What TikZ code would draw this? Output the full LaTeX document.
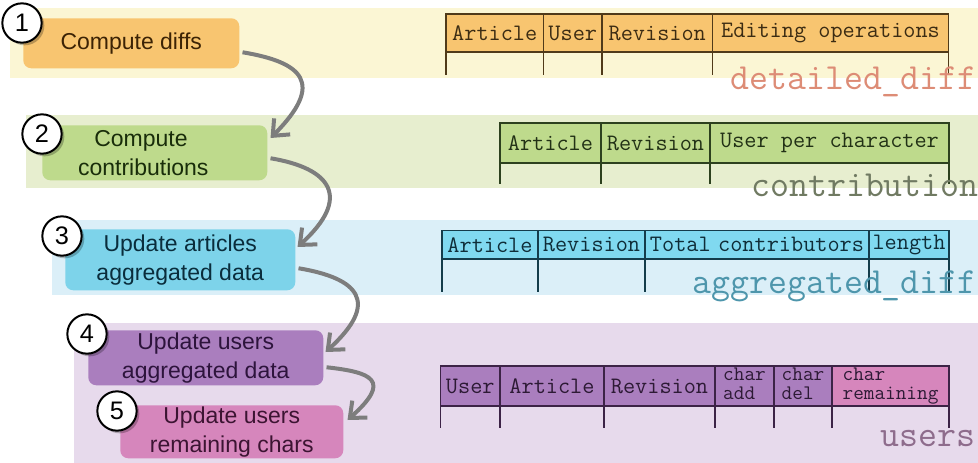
\documentclass[tikz,border=0pt]{standalone}
\usepackage{fontspec}
\setmainfont{Liberation Sans}
\usetikzlibrary{arrows.meta,calc,shadows}
\definecolor{bandA}{RGB}{251,246,212}
\definecolor{bandB}{RGB}{231,238,207}
\definecolor{bandC}{RGB}{219,239,248}
\definecolor{bandD}{RGB}{231,218,236}
\definecolor{boxA}{RGB}{248,197,112}
\definecolor{boxB}{RGB}{190,218,140}
\definecolor{boxC}{RGB}{125,211,234}
\definecolor{boxD}{RGB}{170,126,190}
\definecolor{boxE}{RGB}{214,134,188}
\definecolor{hdrC}{RGB}{128,217,240}
\definecolor{lnA}{RGB}{80,58,25}
\definecolor{lnB}{RGB}{45,65,30}
\definecolor{lnC}{RGB}{20,60,75}
\definecolor{lnD}{RGB}{60,35,70}
\definecolor{txA}{RGB}{60,35,5}
\definecolor{txB}{RGB}{25,45,10}
\definecolor{txC}{RGB}{10,45,60}
\definecolor{txD}{RGB}{45,20,60}
\definecolor{txE}{RGB}{60,20,50}
\definecolor{nameA}{RGB}{221,140,118}
\definecolor{nameB}{RGB}{112,122,98}
\definecolor{nameC}{RGB}{78,150,172}
\definecolor{nameD}{RGB}{142,108,140}
\definecolor{arrowgray}{RGB}{125,125,125}
% name x1 x2 y1 y2 fill line text
\newcommand\mkcell[8]{%
  \filldraw[fill=#6, draw=#7, line width=1.1pt] (#2,#4) rectangle (#3,#5);
  \node[celltext, text=#7!75!black] (#1) at ({(#2+#3)/2},{(#4+#5)/2}) {#8};}
\newcommand\twolinecell[2]{\fontsize{15.5}{14.6}\selectfont\begin{tabular}{@{}l@{}}#1\\#2\end{tabular}}
\begin{document}
\begin{tikzpicture}[x=0.75pt,y=-0.75pt,
  procbox/.style={rectangle, rounded corners=6pt, inner sep=0pt, align=center,
    anchor=north west, font=\fontsize{17.25}{21.75}\selectfont},
  numcirc/.style={circle, draw=black, line width=1.5pt, fill=white,
    minimum size=29.5pt, inner sep=0pt, font=\fontsize{19}{19}\selectfont,
    drop shadow={shadow xshift=2pt, shadow yshift=-2pt, opacity=0.25, fill=black}},
  flow/.style={draw=arrowgray, line width=3pt, -{Straight Barb[length=10pt,width=17pt]}},
  celltext/.style={inner sep=0pt, align=left, font=\ttfamily\fontsize{17.7}{13}\selectfont},
  tline/.style={line width=1.1pt},
  tname/.style={inner sep=0pt, anchor=base east, font=\ttfamily\fontsize{27.6}{27.6}\selectfont}]
\useasboundingbox (0,0) rectangle (978,463);
% bands
\fill[bandA] (10,8) rectangle (978,78);
\fill[bandB] (26,115) rectangle (978,188);
\fill[bandC] (52,220) rectangle (978,295);
\fill[bandD] (74,323) rectangle (978,463);
% process boxes
\node[procbox, fill=boxA, text=txA, minimum width=162pt, minimum height=37.5pt] (p1) at (23,18) {Compute diffs};
\node[procbox, fill=boxB, text=txB, minimum width=168.75pt, minimum height=41.25pt] (p2) at (42,125) {Compute\hspace*{1.2em}\\contributions\hspace*{1em}};
\node[procbox, fill=boxC, text=txC, minimum width=172.5pt, minimum height=45.75pt] (p3) at (65,229) {Update articles\\aggregated data};
\node[procbox, fill=boxD, text=txD, minimum width=176.25pt, minimum height=41.25pt] (p4) at (88,330) {Update users\\aggregated data};
\node[procbox, fill=boxE, text=txE, minimum width=167.25pt, minimum height=39.75pt] (p5) at (120,405) {Update users\\remaining chars};
% number circles
\node[numcirc] (c1) at (22,23) {1};
\node[numcirc] (c2) at (42,134) {2};
\node[numcirc] (c3) at (62,236) {3};
\node[numcirc] (c4) at (87,334) {4};
\node[numcirc] (c5) at (117,411) {5};
% arrows
\draw[flow] ($(p1.east)+(3,9)$) .. controls +(60,10) and +(55,-55) .. ($(p2.north east)+(3,13)$);
\draw[flow] ($(p2.east)+(3,5.5)$) .. controls +(60,10) and +(55,-50) .. ($(p3.north east)+(2,18)$);
\draw[flow] ($(p3.east)+(3,8.5)$) .. controls +(60,10) and +(55,-50) .. ($(p4.north east)+(2,22)$);
\draw[flow] ($(p4.east)+(3,9.5)$) .. controls +(45,5) and +(45,-40) .. ($(p5.north east)+(4,15)$);
% table 1
\mkcell{ta1}{446}{543.5}{14}{52}{boxA}{lnA}{Article}
\mkcell{ta2}{543.5}{602}{14}{52}{boxA}{lnA}{User}
\mkcell{ta3}{602}{712.5}{14}{52}{boxA}{lnA}{Revision}
\mkcell{ta4}{712.5}{948.5}{14}{52}{boxA}{lnA}{Editing operations}
\foreach \xx in {446,543.5,602,712.5,948.5} \draw[tline, lnA] (\xx,52) -- (\xx,75);
\node[tname, text=nameA] (n1) at (977,90) {detailed\_diff};
% table 2
\mkcell{tb1}{500}{601}{123}{163}{boxB}{lnB}{Article}
\mkcell{tb2}{601}{710}{123}{163}{boxB}{lnB}{Revision}
\mkcell{tb3}{710}{949}{123}{163}{boxB}{lnB}{User per character}
\foreach \xx in {500,601,710,949} \draw[tline, lnB] (\xx,163) -- (\xx,184);
\node[tname, text=nameB] (n2) at (979,197) {contribution};
% table 3
\mkcell{tc1}{442}{538}{230.5}{259}{hdrC}{lnC}{Article}
\mkcell{tc2}{538}{645}{230.5}{259}{hdrC}{lnC}{Revision}
\mkcell{tc3}{645}{869}{230.5}{259}{hdrC}{lnC}{Total\hspace{-0.2em} contributors}
\mkcell{tc4}{869}{949}{230.5}{259}{hdrC}{lnC}{length}
\foreach \xx in {442,538,645,869,949} \draw[tline, lnC] (\xx,259) -- (\xx,292);
\node[tname, text=nameC] (n3) at (977,294) {aggregated\_diff};
% table 4
\mkcell{td1}{440.5}{500}{366}{406}{boxD}{lnD}{User}
\mkcell{td2}{500}{604}{366}{406}{boxD}{lnD}{Article}
\mkcell{td3}{604}{715}{366}{406}{boxD}{lnD}{Revision}
\mkcell{td4}{715}{774}{366}{406}{boxD}{lnD}{\twolinecell{char}{add}}
\mkcell{td5}{774}{832}{366}{406}{boxD}{lnD}{\twolinecell{char}{del}}
\mkcell{td6}{832}{949}{366}{406}{boxE}{lnD}{\twolinecell{char}{remaining}}
\foreach \xx in {440.5,500,604,715,774,832,949} \draw[tline, lnD] (\xx,406) -- (\xx,428);
\node[tname, text=nameD] (n4) at (976,446) {users};
\end{tikzpicture}
\end{document}
